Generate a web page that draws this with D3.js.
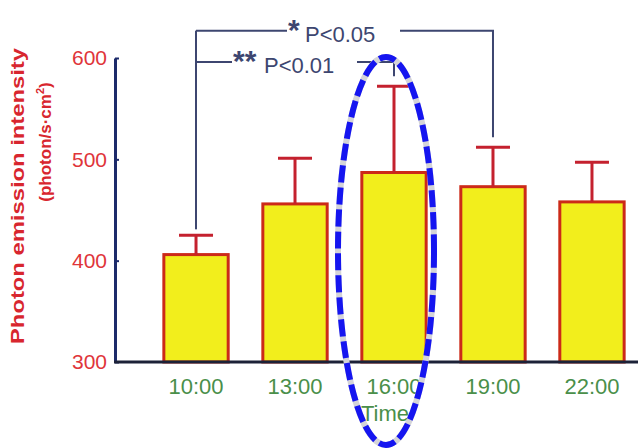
<!DOCTYPE html>
<html>
<head>
<meta charset="utf-8">
<script src="https://cdn.jsdelivr.net/npm/d3@7"></script>
<style>
  body { margin: 0; background: #fff; }
  text { font-family: "Liberation Sans", Arial, sans-serif; }
</style>
</head>
<body>
<script>
// data
var times = ["10:00", "13:00", "16:00", "19:00", "22:00"];
var means = [406, 456, 487, 473, 458];
var errs = [19, 45, 85, 39, 39];
var yTicks = [300, 400, 500, 600];
// significance brackets: from / to category, bracket level, label
var sigFrom = ["10:00", "10:00"];
var sigTo = ["19:00", "16:00"];
var sigLevel = [627, 596];
var sigStars = ["*", "**"];
var sigText = ["P<0.05", "P<0.01"];

var w = 638, h = 448;

var svg = d3.select("body").append("svg")
  .attr("width", w)
  .attr("height", h);

var x = d3.scaleBand()
  .domain(times)
  .range([149, 639])
  .paddingInner(0.35)
  .paddingOuter(0.15);

var y = d3.scaleLinear()
  .domain([300, 600])
  .range([362, 58]);

var cx = function(d) { return x(d) + x.bandwidth() / 2; };

// bars
svg.selectAll("rect.bar")
  .data(times)
  .enter()
  .append("rect")
  .attr("class", "bar")
  .attr("x", function(d) { return x(d); })
  .attr("y", function(d, i) { return y(means[i]); })
  .attr("width", x.bandwidth())
  .attr("height", function(d, i) { return y(300) - y(means[i]); })
  .style("fill", "#f2ee1c")
  .style("stroke", "#cc2a18")
  .style("stroke-width", 3);

// error bars
var eb = svg.selectAll("g.err")
  .data(times)
  .enter()
  .append("g")
  .attr("class", "err")
  .style("stroke", "#c4212e")
  .style("stroke-width", 3);

eb.append("line")
  .attr("x1", cx).attr("x2", cx)
  .attr("y1", function(d, i) { return y(means[i]); })
  .attr("y2", function(d, i) { return y(means[i] + errs[i]); });

eb.append("line")
  .attr("x1", function(d) { return cx(d) - 17; })
  .attr("x2", function(d) { return cx(d) + 17; })
  .attr("y1", function(d, i) { return y(means[i] + errs[i]); })
  .attr("y2", function(d, i) { return y(means[i] + errs[i]); });

// axes
var yAxis = d3.axisLeft(y)
  .tickValues(yTicks)
  .tickSizeInner(-4)
  .tickSizeOuter(0)
  .tickPadding(8);

var gy = svg.append("g")
  .attr("transform", "translate(115,0)")
  .call(yAxis);
gy.select(".domain").style("stroke", "#1c2a6a").style("stroke-width", 3);
gy.selectAll(".tick line").style("stroke", "#1c2a6a").style("stroke-width", 2);
gy.selectAll(".tick text")
  .style("font-size", "21px")
  .style("fill", "#e0353a");

var xAxis = d3.axisBottom(x).tickSize(0).tickPadding(16);
var gx = svg.append("g")
  .attr("transform", "translate(0,362)")
  .call(xAxis);
gx.select(".domain").remove();
gx.selectAll(".tick text")
  .style("font-size", "22px")
  .style("fill", "#4a8f4a");

svg.append("line")
  .attr("x1", 114).attr("x2", 638)
  .attr("y1", 362).attr("y2", 362)
  .style("stroke", "#1c2238")
  .style("stroke-width", 3);

// axis titles
svg.append("text")
  .attr("transform", "translate(24,196) rotate(-90)")
  .attr("text-anchor", "middle")
  .attr("textLength", 296)
  .attr("lengthAdjust", "spacingAndGlyphs")
  .style("font-size", "18px")
  .style("font-weight", "bold")
  .style("fill", "#d8262e")
  .text("Photon emission intensity");

var t2 = svg.append("text")
  .attr("transform", "translate(51,142) rotate(-90)")
  .attr("text-anchor", "middle")
  .style("font-size", "17px")
  .style("font-weight", "bold")
  .style("fill", "#d8262e");
t2.append("tspan").text("(photon/s·cm");
t2.append("tspan").attr("dy", -7).style("font-size", "11px").text("2");
t2.append("tspan").attr("dy", 7).text(")");

svg.append("text")
  .attr("x", 385).attr("y", 421)
  .attr("text-anchor", "middle")
  .style("font-size", "22px")
  .style("fill", "#4a8f4a")
  .text("Time");

// significance brackets
var sigColor = "#3d4670";
var textStart = [288, 233];
var textEnd = [400, 357];
var leftBottom = y(means[0] + errs[0]) - 6;

svg.append("line")
  .attr("x1", cx(sigFrom[0])).attr("x2", cx(sigFrom[0]))
  .attr("y1", y(sigLevel[0])).attr("y2", leftBottom)
  .style("stroke", sigColor).style("stroke-width", 2);

sigText.forEach(function(s, k) {
  var yl = y(sigLevel[k]);
  var xr = cx(sigTo[k]);
  var j = times.indexOf(sigTo[k]);
  svg.append("polyline")
    .attr("points", [[cx(sigFrom[k]), yl], [textStart[k] - 1, yl]].join(" "))
    .style("fill", "none").style("stroke", sigColor).style("stroke-width", 2);
  svg.append("polyline")
    .attr("points", [[textEnd[k], yl], [xr, yl], [xr, y(means[j] + errs[j]) - 10]].join(" "))
    .style("fill", "none").style("stroke", sigColor).style("stroke-width", 2);
  svg.append("text")
    .attr("x", textStart[k]).attr("y", yl + 9)
    .style("font-size", "30px")
    .style("font-weight", "bold")
    .style("fill", sigColor)
    .text(sigStars[k]);
  svg.append("text")
    .attr("x", textStart[k] + 14 * sigStars[k].length + 3).attr("y", yl + 11)
    .style("font-size", "22px")
    .style("fill", sigColor)
    .text(s);
});

// highlight ellipse around 16:00
var ex = cx("16:00") - 8, ey = 251;
svg.append("ellipse")
  .attr("cx", ex).attr("cy", ey)
  .attr("rx", 48).attr("ry", 194)
  .style("fill", "none")
  .style("stroke", "#d4d4d8")
  .style("stroke-width", 6);
svg.append("ellipse")
  .attr("cx", ex).attr("cy", ey)
  .attr("rx", 48).attr("ry", 194)
  .style("fill", "none")
  .style("stroke", "#1515f0")
  .style("stroke-width", 6)
  .style("stroke-dasharray", "17 5");
</script>
</body>
</html>
